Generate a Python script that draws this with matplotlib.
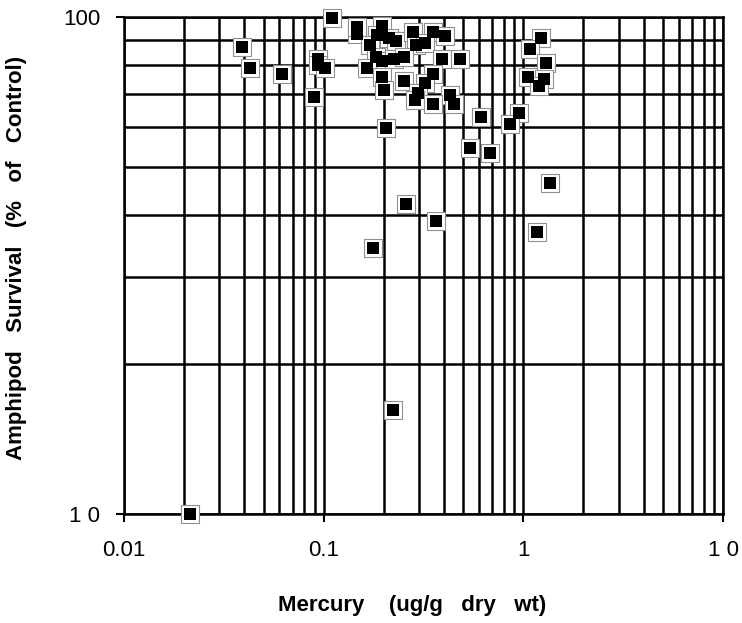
import matplotlib.pyplot as plt
from matplotlib.ticker import LogLocator, NullFormatter, FixedLocator, FixedFormatter

# Mercury concentration (ug/g dry wt) and amphipod survival (% of control)
mercury = [0.039, 0.043, 0.062, 0.089, 0.094, 0.094, 0.102, 0.110,
           0.147, 0.147, 0.195, 0.185, 0.212, 0.231, 0.280, 0.353,
           0.404, 0.289, 0.323, 0.171, 0.182, 0.196, 0.224, 0.252,
           0.393, 0.484, 0.164, 0.354, 0.196, 0.252, 0.321, 0.200,
           0.297, 0.288, 0.428, 0.354, 0.448, 0.206, 0.611, 0.951,
           0.854, 0.538, 0.678, 1.231, 1.084, 1.298, 1.055, 1.264,
           1.197, 1.365, 1.175, 0.259, 0.364, 0.176, 0.222, 0.0213]
survival = [86.9, 79.1, 76.7, 69.1, 82.5, 80.0, 79.1, 99.7,
            92.3, 95.6, 95.9, 92.0, 90.6, 89.6, 93.4, 93.4,
            91.6, 87.8, 88.8, 87.8, 83.2, 81.7, 82.3, 83.2,
            82.3, 82.3, 78.9, 76.7, 75.9, 74.3, 73.6, 71.3,
            70.4, 68.1, 69.7, 66.8, 66.8, 59.7, 62.8, 64.2,
            60.9, 54.4, 53.2, 90.6, 86.1, 80.8, 75.9, 75.0,
            72.6, 46.4, 37.0, 42.0, 38.9, 34.3, 16.2, 10.0]

x_ticks = [0.01, 0.1, 1, 10]
x_labels = ["0.01", "0.1", "1", "1 0"]
y_ticks = [10, 100]
y_labels = ["1 0", "100"]

plt.rcParams['font.family'] = ['Liberation Sans', 'DejaVu Sans']

fig = plt.figure(figsize=(7.42, 6.23), dpi=100)
ax = fig.add_axes([0.1671, 0.1749, 0.8073, 0.7978])

ax.set_xscale('log')
ax.set_yscale('log')
ax.set_xlim(0.01, 10)
ax.set_ylim(10, 100)

# grey-edged white frame under each black square
ax.scatter(mercury, survival, marker='s', s=165, facecolor='white',
           edgecolor='#909090', linewidth=0.8, zorder=3, clip_on=False)
ax.scatter(mercury, survival, marker='s', s=72, color='black',
           linewidth=0, zorder=4, clip_on=False)

ax.xaxis.set_major_locator(FixedLocator(x_ticks))
ax.xaxis.set_major_formatter(FixedFormatter(x_labels))
ax.yaxis.set_major_locator(FixedLocator(y_ticks))
ax.yaxis.set_major_formatter(FixedFormatter(y_labels))
for axis in (ax.xaxis, ax.yaxis):
    axis.set_minor_locator(LogLocator(base=10, subs=range(2, 10)))
    axis.set_minor_formatter(NullFormatter())

ax.tick_params(which='major', direction='out', length=6, width=1.5,
               color='black', labelsize=16)
ax.tick_params(axis='x', which='major', pad=13)
ax.tick_params(axis='y', which='major', pad=11)
ax.tick_params(which='minor', length=0)

ax.grid(True, which='both', color='black', linewidth=1.8)
ax.set_axisbelow(True)
for s in ax.spines.values():
    s.set_linewidth(1.8)

ax.set_xlabel("Mercury    (ug/g   dry   wt)", fontsize=16,
              fontweight='bold')
ax.set_ylabel("Amphipod   Survival   (%   of   Control)", fontsize=16,
              fontweight='bold')
ax.xaxis.set_label_coords(0.481, -0.162)
ax.yaxis.set_label_coords(-0.162, 0.515)

fig.savefig("out.png", dpi=100)
